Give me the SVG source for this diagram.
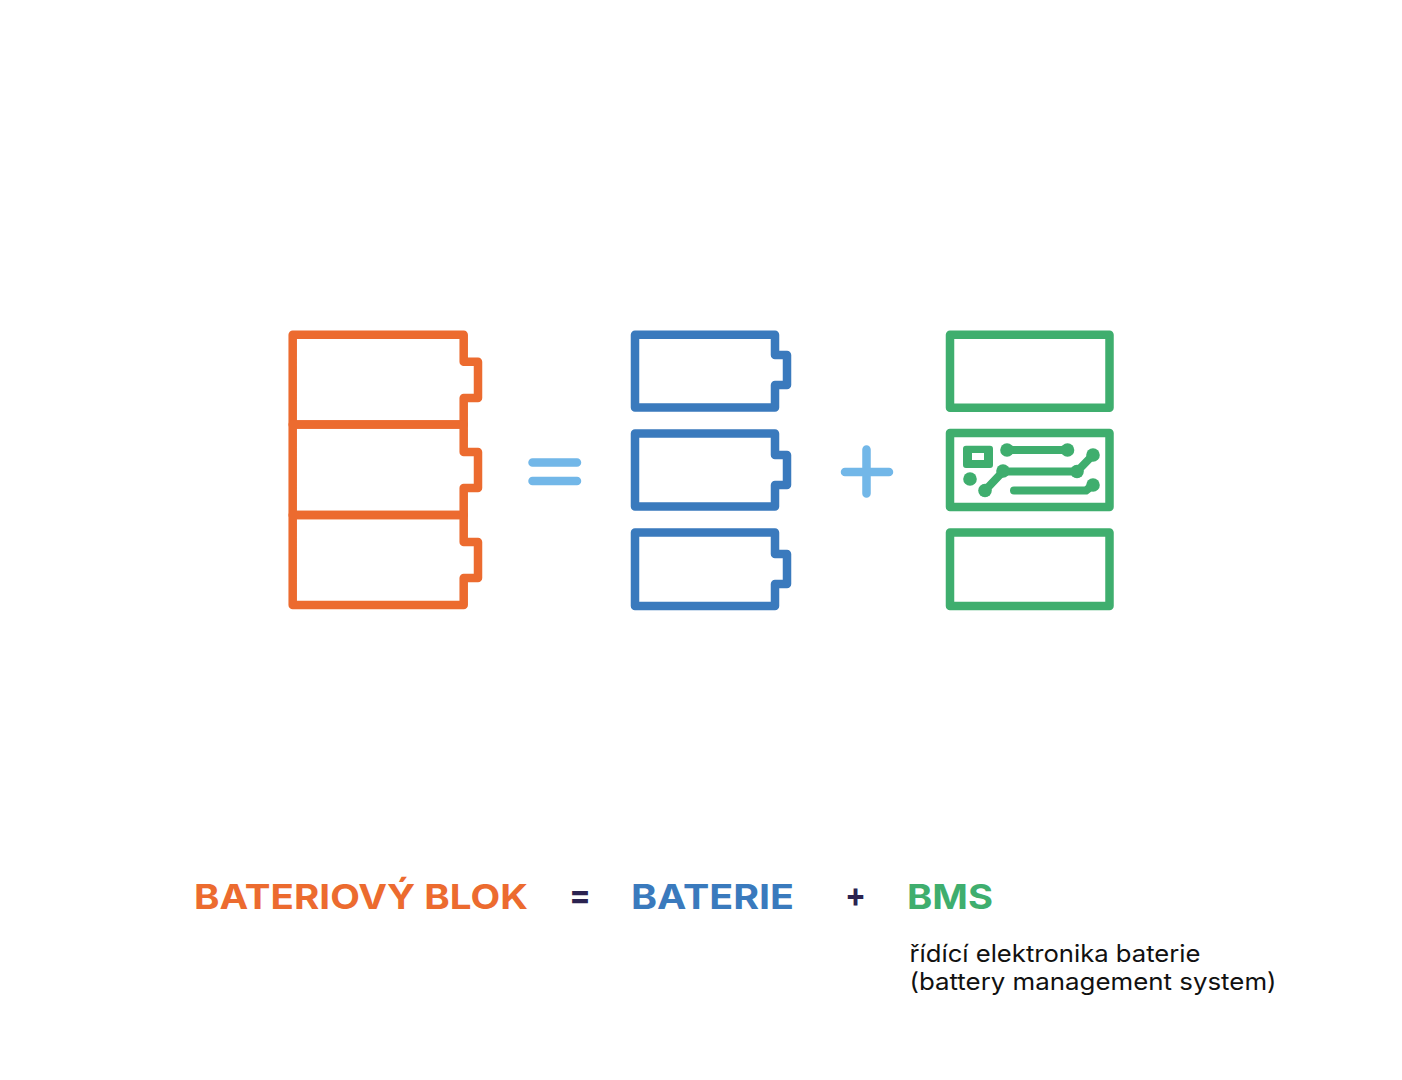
<svg xmlns="http://www.w3.org/2000/svg" width="1402" height="1080" viewBox="0 0 1402 1080">
<style>
.l{fill:none;stroke-width:8.5;stroke-linejoin:round;stroke-linecap:round}
.o{stroke:#ec6b2f}.b{stroke:#3a7abd}.g{stroke:#3fae6e}.s{stroke:#72b7e8}
.t{font-family:"Inter","Liberation Sans",sans-serif;font-weight:700;font-size:34px}
.d{font-family:"Inter","Liberation Sans",sans-serif;font-size:24px;fill:#111}
.c{fill:none;stroke:#3fae6e;stroke-width:8;stroke-linecap:round;stroke-linejoin:round}
.p{fill:#3fae6e}
</style>
<g id="block" class="l o">
<path d="M292.7 424.5V334.7H463.7V361.7H478V398H463.7V424.5Z"/>
<path d="M292.7 515V424.5H463.7V452H478V488H463.7V515Z"/>
<path d="M292.7 605V515H463.7V542H478V578H463.7V605Z"/>
</g>
<g id="equals" class="l s"><path d="M532.500 462.500H577M532.500 481H577"/></g>
<g id="battery1" class="l b"><path d="M635 334.700H775V355H787V385H775V407.500H635Z"/></g>
<g id="battery2" class="l b"><path d="M635 433.500H775V455H787V485H775V506.500H635Z"/></g>
<g id="battery3" class="l b"><path d="M635 532.500H775V554H787V584H775V606H635Z"/></g>
<g id="plus" class="l s"><path d="M845 472H889M866.500 449.500V493.500"/></g>
<g id="bms1" class="l g"><rect x="950" y="334.700" width="159.500" height="73"/></g>
<g id="bms2">
<rect class="l g" x="950" y="433" width="159.500" height="74"/>
<path class="p" fill-rule="evenodd" d="M966 445.700H990Q993 445.700 993 448.700V465Q993 468 990 468H966Q963 468 963 465V448.700Q963 445.700 966 445.700ZM972 453V460H984V453Z"/>
<path class="c" d="M1007 450H1067"/>
<circle class="p" cx="1007" cy="450" r="6.800"/><circle class="p" cx="1067.500" cy="450" r="6.800"/>
<circle class="p" cx="970" cy="479" r="6.800"/>
<path class="c" d="M985 490.500L1003 471.500H1077L1093 455"/>
<circle class="p" cx="985" cy="490.500" r="6.800"/><circle class="p" cx="1003" cy="471" r="6.800"/>
<circle class="p" cx="1077" cy="471.500" r="6.800"/><circle class="p" cx="1093" cy="455" r="6.800"/>
<path class="c" d="M1014 490.500H1086L1093 485"/>
<circle class="p" cx="1093" cy="485" r="6.800"/>
</g>
<g id="bms3" class="l g"><rect x="950" y="532.500" width="159.500" height="73.500"/></g>
<g id="labels">
<text class="t" x="194" y="909" fill="#ec6b2f" textLength="334" lengthAdjust="spacingAndGlyphs">BATERIOVÝ BLOK</text>
<text class="t" x="569" y="907" fill="#2b2350" textLength="22" lengthAdjust="spacingAndGlyphs">=</text>
<text class="t" x="631" y="909" fill="#3a7abd" textLength="163" lengthAdjust="spacingAndGlyphs">BATERIE</text>
<text class="t" x="845" y="907" fill="#2b2350" textLength="21" lengthAdjust="spacingAndGlyphs">+</text>
<text class="t" x="907" y="909" fill="#3fae6e" textLength="86" lengthAdjust="spacingAndGlyphs">BMS</text>
<text class="d" x="909.500" y="962" textLength="291" lengthAdjust="spacingAndGlyphs">řídící elektronika baterie</text>
<text class="d" x="909.500" y="990" textLength="367" lengthAdjust="spacingAndGlyphs">(battery management system)</text>
</g>
</svg>
